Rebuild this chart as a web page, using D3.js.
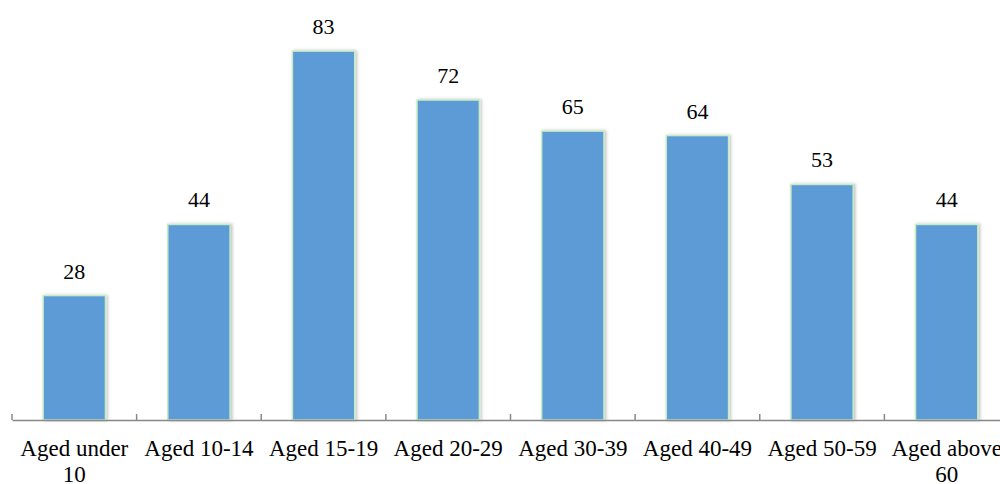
<!DOCTYPE html>
<html>
<head>
<meta charset="utf-8">
<script src="https://cdn.jsdelivr.net/npm/d3@7"></script>
<style>
  html, body { margin: 0; padding: 0; background: #fff; }
  svg { display: block; }
  text { font-family: "Liberation Serif", "Times New Roman", serif; fill: #000; }
</style>
</head>
<body>
<svg id="chart" width="1000" height="484"></svg>
<script>
// Age groups and their counts
const categories = ["Aged under 10", "Aged 10-14", "Aged 15-19", "Aged 20-29",
                    "Aged 30-39", "Aged 40-49", "Aged 50-59", "Aged above 60"];
const values = [28, 44, 83, 72, 65, 64, 53, 44];

const svg = d3.select("#chart");
const margin = { left: 12, right: -9, top: 0, bottom: 64 };
const W = 1000, H = 484;
const axisY = 420;

const x = d3.scaleBand()
  .domain(categories)
  .range([margin.left, W - margin.right])
  .paddingInner(0)
  .paddingOuter(0);

const y = d3.scaleLinear()
  .domain([0, 94.5])
  .range([axisY, 0]);

// soft shadow behind the bars
const defs = svg.append("defs");
const f = defs.append("filter").attr("id", "shadow")
  .attr("x", "-20%").attr("y", "-10%").attr("width", "140%").attr("height", "120%");
f.append("feDropShadow").attr("dx", 1.5).attr("dy", 0).attr("stdDeviation", 1.5)
  .attr("flood-color", "#000").attr("flood-opacity", 0.25);

const barW = x.bandwidth() * 0.5;

svg.append("g").selectAll("rect")
  .data(values)
  .join("rect")
  .attr("x", (d, i) => x(categories[i]) + (x.bandwidth() - barW) / 2)
  .attr("y", d => y(d))
  .attr("width", barW)
  .attr("height", d => axisY - y(d))
  .attr("fill", "#5b9bd5")
  .attr("stroke", "#c6ecc6")
  .attr("stroke-width", 1.5)
  .attr("filter", "url(#shadow)");

// value labels above bars
svg.append("g").selectAll("text")
  .data(values)
  .join("text")
  .attr("x", (d, i) => x(categories[i]) + x.bandwidth() / 2)
  .attr("y", d => y(d) - 17)
  .attr("text-anchor", "middle")
  .attr("font-size", 22)
  .text(d => d);

// category axis with tick marks between bands
const axis = d3.axisBottom(x).tickSize(0).tickFormat("");
const gAxis = svg.append("g").attr("transform", `translate(0,${axisY})`).call(axis);
gAxis.select(".domain").attr("stroke", "#888").attr("stroke-width", 1.5);
const tickPos = categories.map(c => x(c)).concat([x.range()[1]]);
gAxis.selectAll("line.sep")
  .data(tickPos)
  .join("line")
  .attr("class", "sep")
  .attr("x1", d => d).attr("x2", d => d)
  .attr("y1", 0).attr("y2", -6)
  .attr("stroke", "#888").attr("stroke-width", 1.5);

// category labels, wrapped to the band width
const labels = svg.append("g").selectAll("text")
  .data(categories)
  .join("text")
  .attr("x", d => x(d) + x.bandwidth() / 2)
  .attr("y", 456)
  .attr("text-anchor", "middle")
  .attr("font-size", 23);

labels.each(function (d) {
  const t = d3.select(this);
  const words = d.split(" ");
  const cx = +t.attr("x");
  let line = [];
  let tspan = t.append("tspan").attr("x", cx).attr("dy", 0);
  words.forEach(w => {
    line.push(w);
    tspan.text(line.join(" "));
    if (tspan.node().getComputedTextLength() > x.bandwidth() - 4 && line.length > 1) {
      line.pop();
      tspan.text(line.join(" "));
      line = [w];
      tspan = t.append("tspan").attr("x", cx).attr("dy", 26).text(w);
    }
  });
});
</script>
</body>
</html>
